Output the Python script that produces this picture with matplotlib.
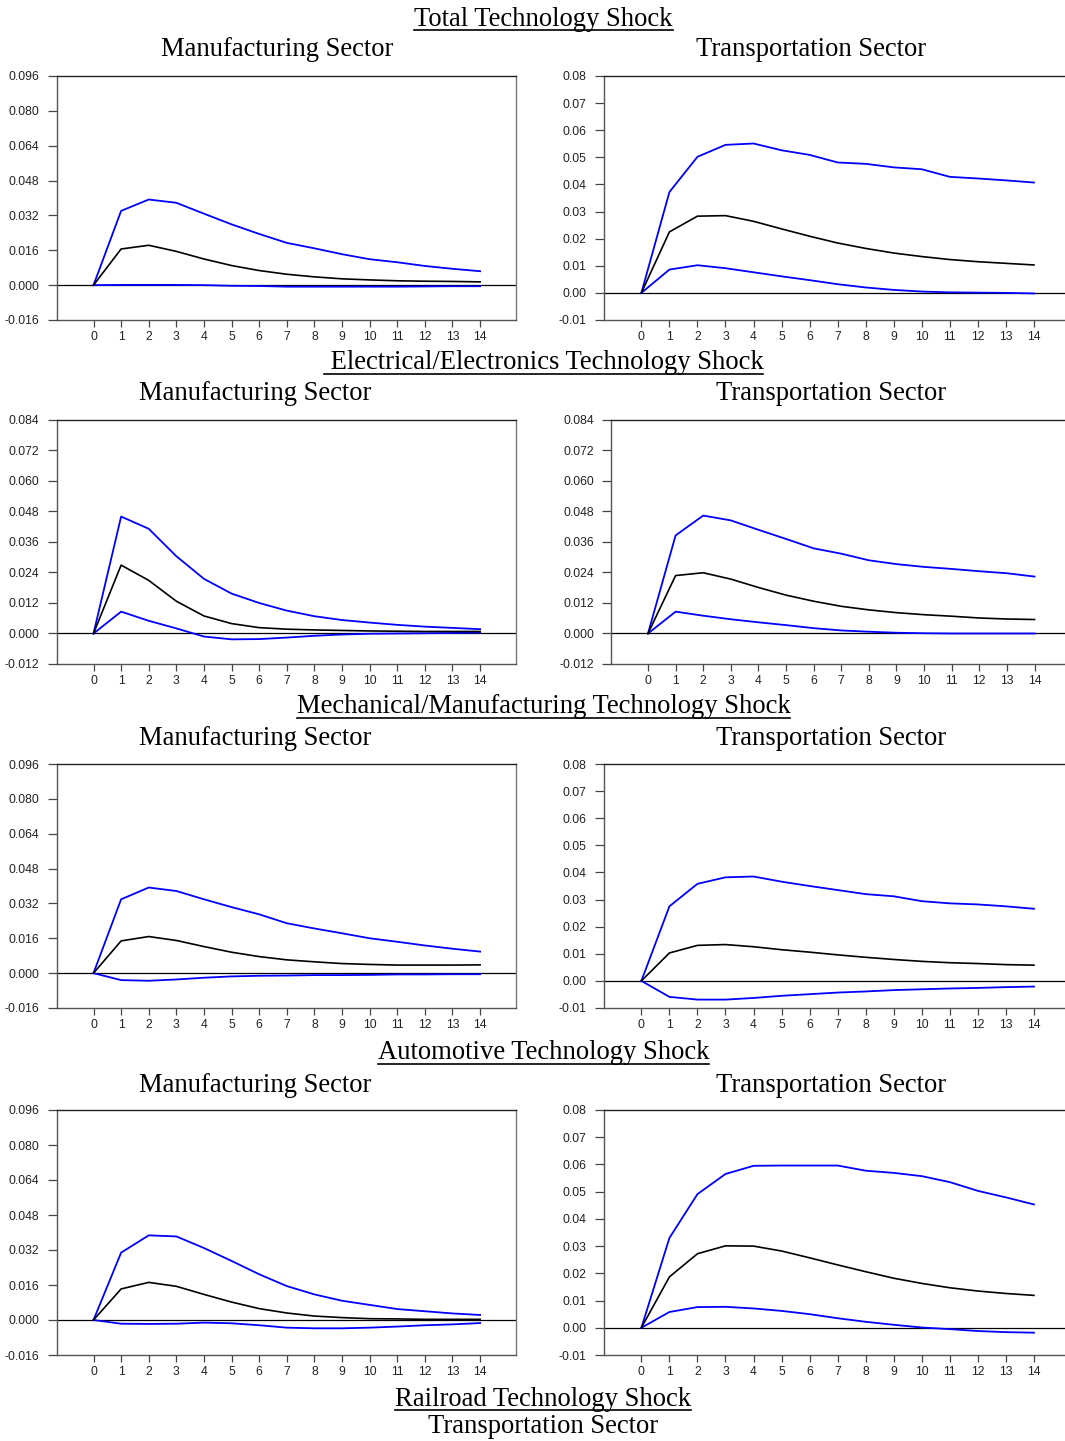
import matplotlib
matplotlib.use("Agg")
import matplotlib.pyplot as plt
from matplotlib.lines import Line2D

W, H = 1065, 1441

periods = [0, 1, 2, 3, 4, 5, 6, 7, 8, 9, 10, 11, 12, 13, 14]

# Total technology shock
tot_mfg_up = [0, 0.0341, 0.0393, 0.0378, 0.0328, 0.0279, 0.0235, 0.0194, 0.0169, 0.0142, 0.0119, 0.0105, 0.0088, 0.0075, 0.0064]
tot_mfg_irf = [0, 0.0166, 0.0183, 0.0155, 0.0120, 0.0090, 0.0067, 0.0050, 0.0038, 0.0029, 0.0024, 0.0020, 0.0018, 0.0017, 0.0015]
tot_mfg_lo = [0, 0.0001, 0.0001, 0.0001, 0.0, -0.0003, -0.0004, -0.0007, -0.0007, -0.0007, -0.0007, -0.0007, -0.0006, -0.0005, -0.0005]
tot_trn_up = [0, 0.0372, 0.0502, 0.0546, 0.0551, 0.0526, 0.0509, 0.0481, 0.0476, 0.0463, 0.0456, 0.0428, 0.0422, 0.0415, 0.0407]
tot_trn_irf = [0, 0.0225, 0.0283, 0.0285, 0.0264, 0.0236, 0.0209, 0.0184, 0.0164, 0.0147, 0.0134, 0.0123, 0.0115, 0.0109, 0.0103]
tot_trn_lo = [0, 0.0086, 0.0102, 0.0091, 0.0076, 0.0061, 0.0047, 0.0032, 0.0020, 0.0011, 0.0005, 0.0002, 0.0001, 0.0, -0.0002]

# Electrical/electronics technology shock
ele_mfg_up = [0, 0.0460, 0.0412, 0.0304, 0.0215, 0.0157, 0.0120, 0.0090, 0.0068, 0.0053, 0.0043, 0.0034, 0.0027, 0.0022, 0.0017]
ele_mfg_irf = [0, 0.0269, 0.0209, 0.0127, 0.0069, 0.0039, 0.0023, 0.0017, 0.0014, 0.0012, 0.0010, 0.0009, 0.0008, 0.0008, 0.0008]
ele_mfg_lo = [0, 0.0086, 0.0050, 0.0020, -0.0012, -0.0023, -0.0022, -0.0016, -0.0009, -0.0004, -0.0001, 0.0, 0.0001, 0.0002, 0.0004]
ele_trn_up = [0, 0.0386, 0.0464, 0.0445, 0.0408, 0.0372, 0.0335, 0.0314, 0.0288, 0.0273, 0.0262, 0.0254, 0.0245, 0.0237, 0.0224]
ele_trn_irf = [0, 0.0228, 0.0239, 0.0214, 0.0181, 0.0151, 0.0127, 0.0107, 0.0093, 0.0082, 0.0074, 0.0068, 0.0061, 0.0057, 0.0055]
ele_trn_lo = [0, 0.0086, 0.0070, 0.0056, 0.0044, 0.0033, 0.0021, 0.0012, 0.0007, 0.0003, 0.0001, 0.0, 0.0, 0.0, 0.0]

# Mechanical/manufacturing technology shock
mec_mfg_up = [0, 0.0339, 0.0393, 0.0377, 0.0339, 0.0303, 0.0270, 0.0229, 0.0205, 0.0183, 0.0160, 0.0144, 0.0127, 0.0112, 0.0099]
mec_mfg_irf = [0, 0.0148, 0.0168, 0.0150, 0.0122, 0.0096, 0.0076, 0.0061, 0.0052, 0.0044, 0.0040, 0.0037, 0.0037, 0.0037, 0.0038]
mec_mfg_lo = [0, -0.0032, -0.0035, -0.0029, -0.0021, -0.0015, -0.0012, -0.0011, -0.0009, -0.0009, -0.0008, -0.0006, -0.0006, -0.0005, -0.0005]
mec_trn_up = [0, 0.0275, 0.0358, 0.0382, 0.0385, 0.0366, 0.0350, 0.0335, 0.0320, 0.0312, 0.0294, 0.0286, 0.0282, 0.0275, 0.0266]
mec_trn_irf = [0, 0.0103, 0.0131, 0.0134, 0.0126, 0.0115, 0.0106, 0.0096, 0.0087, 0.0079, 0.0072, 0.0067, 0.0064, 0.0060, 0.0058]
mec_trn_lo = [0, -0.0059, -0.0069, -0.0069, -0.0063, -0.0055, -0.0049, -0.0043, -0.0039, -0.0034, -0.0031, -0.0028, -0.0026, -0.0023, -0.0021]

# Automotive technology shock
aut_mfg_up = [0, 0.0308, 0.0387, 0.0382, 0.0329, 0.0270, 0.0209, 0.0155, 0.0117, 0.0088, 0.0069, 0.0050, 0.0040, 0.0030, 0.0023]
aut_mfg_irf = [0, 0.0142, 0.0172, 0.0154, 0.0117, 0.0082, 0.0052, 0.0032, 0.0018, 0.0011, 0.0006, 0.0005, 0.0003, 0.0003, 0.0003]
aut_mfg_lo = [0, -0.0017, -0.0018, -0.0017, -0.0012, -0.0015, -0.0024, -0.0035, -0.0038, -0.0038, -0.0035, -0.0030, -0.0024, -0.0020, -0.0014]
aut_trn_up = [0, 0.0330, 0.0491, 0.0565, 0.0595, 0.0596, 0.0596, 0.0596, 0.0577, 0.0569, 0.0557, 0.0535, 0.0503, 0.0479, 0.0453]
aut_trn_irf = [0, 0.0187, 0.0272, 0.0301, 0.0300, 0.0282, 0.0257, 0.0231, 0.0206, 0.0182, 0.0163, 0.0147, 0.0135, 0.0126, 0.0119]
aut_trn_lo = [0, 0.0058, 0.0076, 0.0077, 0.0071, 0.0062, 0.0050, 0.0035, 0.0022, 0.0011, 0.0001, -0.0005, -0.0012, -0.0016, -0.0018]

mfg_ticks = [-0.016, 0.0, 0.016, 0.032, 0.048, 0.064, 0.080, 0.096]
ele_ticks = [-0.012, 0.0, 0.012, 0.024, 0.036, 0.048, 0.060, 0.072, 0.084]
trn_ticks = [-0.01, 0.0, 0.01, 0.02, 0.03, 0.04, 0.05, 0.06, 0.07, 0.08]

shock_titles = ["Total Technology Shock", " Electrical/Electronics Technology Shock",
                "Mechanical/Manufacturing Technology Shock", "Automotive Technology Shock"]

SERIF = "Liberation Serif"
SANS = "Liberation Sans"
TSIZE = 19.2

fig = plt.figure(figsize=(W / 100, H / 100), dpi=100)
renderer = fig.canvas.get_renderer()


def px_axes(left, top, right, bottom):
    return fig.add_axes([left / W, 1 - bottom / H, (right - left) / W, (bottom - top) / H])


def px_text(x, y, s, underline=False):
    t = fig.text(x / W, 1 - y / H, s, ha="center", va="baseline",
                 fontsize=TSIZE, family=SERIF, color="black")
    if underline:
        bb = t.get_window_extent(renderer)
        yl = 1 - (y + 4.5) / H
        fig.add_artist(Line2D([bb.x0 / W, bb.x1 / W], [yl, yl], color="black",
                              lw=1.2, transform=fig.transFigure))
    return t


def draw_panel(ax, up, irf, lo, ticks, fmt):
    ax.axhline(0, color="black", lw=0.9, zorder=1)
    ax.plot(periods, up, color="#0000ff", lw=1.3, zorder=3)
    ax.plot(periods, lo, color="#0000ff", lw=1.3, zorder=3)
    ax.plot(periods, irf, color="black", lw=1.2, zorder=4)
    ax.set_xlim(-1.34, 15.3)
    ax.set_ylim(ticks[0], ticks[-1])
    ax.set_xticks(periods)
    ax.set_xticklabels([str(p) for p in periods])
    ax.set_yticks(ticks)
    ax.set_yticklabels([fmt % v for v in ticks])
    ax.tick_params(axis="y", direction="out", length=6.2, width=0.9, pad=6,
                   color="#444444", labelsize=8.7, labelcolor="#222222")
    ax.tick_params(axis="x", direction="out", length=5, width=0.9, pad=3,
                   color="#444444", labelsize=8.7, labelcolor="#222222")
    for lab in ax.get_xticklabels() + ax.get_yticklabels():
        lab.set_family(SANS)
    ax.spines["top"].set_color("#222222")
    ax.spines["left"].set_color("#555555")
    ax.spines["bottom"].set_color("#555555")
    ax.spines["right"].set_color("#777777")
    for sp in ax.spines.values():
        sp.set_linewidth(1.0)


panels = [
    (tot_mfg_up, tot_mfg_irf, tot_mfg_lo, mfg_ticks, "%.3f", tot_trn_up, tot_trn_irf, tot_trn_lo, trn_ticks, "%.2f"),
    (ele_mfg_up, ele_mfg_irf, ele_mfg_lo, ele_ticks, "%.3f", ele_trn_up, ele_trn_irf, ele_trn_lo, ele_ticks, "%.3f"),
    (mec_mfg_up, mec_mfg_irf, mec_mfg_lo, mfg_ticks, "%.3f", mec_trn_up, mec_trn_irf, mec_trn_lo, trn_ticks, "%.2f"),
    (aut_mfg_up, aut_mfg_irf, aut_mfg_lo, mfg_ticks, "%.3f", aut_trn_up, aut_trn_irf, aut_trn_lo, trn_ticks, "%.2f"),
]

tops = [76, 420, 764, 1110]
bottoms = [320, 664, 1008, 1355]
right_lefts = [603.8, 611, 603.8, 603.8]
title_y = [25.8, 369, 713, 1059]
sub_y = [56.5, 400.5, 745.5, 1091.5]
sub_x = [(277.5, 811), (255.5, 831.5), (255.5, 831.5), (255.5, 831.5)]

for i, p in enumerate(panels):
    px_text(543.5, title_y[i], shock_titles[i], underline=True)
    px_text(sub_x[i][0], sub_y[i], "Manufacturing Sector")
    px_text(sub_x[i][1], sub_y[i], "Transportation Sector")

    ax_l = px_axes(56.5, tops[i], 516, bottoms[i])
    draw_panel(ax_l, p[0], p[1], p[2], p[3], p[4])

    ax_r = px_axes(right_lefts[i], tops[i], 1070.4, bottoms[i])
    draw_panel(ax_r, p[5], p[6], p[7], p[8], p[9])

px_text(543, 1405.5, "Railroad Technology Shock", underline=True)
px_text(543.5, 1433, "Transportation Sector")

fig.savefig("out.png", dpi=100)
